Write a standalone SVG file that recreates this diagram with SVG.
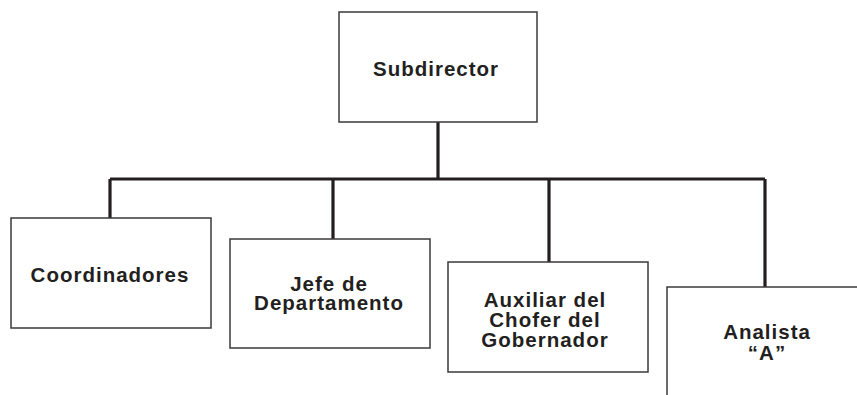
<svg xmlns="http://www.w3.org/2000/svg" width="857" height="395" viewBox="0 0 857 395">
<style>
.box{fill:#fff;stroke:#3a3a3a;stroke-width:1.5}
.conn{fill:none;stroke:#231f20;stroke-width:3.2}
text{font-family:"Liberation Sans",Arial,sans-serif;font-weight:bold;font-size:20.5px;fill:#231f20;text-anchor:middle;letter-spacing:1px}
</style>
<rect width="857" height="395" fill="#fff"/>
<g id="connectors">
<path class="conn" d="M438 122V179M110 179H765M110 179V218M333 179V239M549 179V262M765 179V287"/>
</g>
<g id="subdirector">
<rect class="box" x="339" y="12" width="198" height="110"/>
<text x="436" y="76">Subdirector</text>
</g>
<g id="coordinadores">
<rect class="box" x="11" y="218" width="200" height="110"/>
<text x="110" y="282">Coordinadores</text>
</g>
<g id="jefe">
<rect class="box" x="230" y="239" width="200" height="109"/>
<text x="329" y="291">Jefe de</text>
<text x="329" y="310">Departamento</text>
</g>
<g id="auxiliar">
<rect class="box" x="448" y="262" width="200" height="110"/>
<text x="545" y="306.5">Auxiliar del</text>
<text x="545" y="326.5">Chofer del</text>
<text x="545" y="346.5">Gobernador</text>
</g>
<g id="analista">
<path class="box" d="M667 395V287H858"/>
<text x="767" y="339">Analista</text>
<text x="767" y="360">“A”</text>
</g>
</svg>
